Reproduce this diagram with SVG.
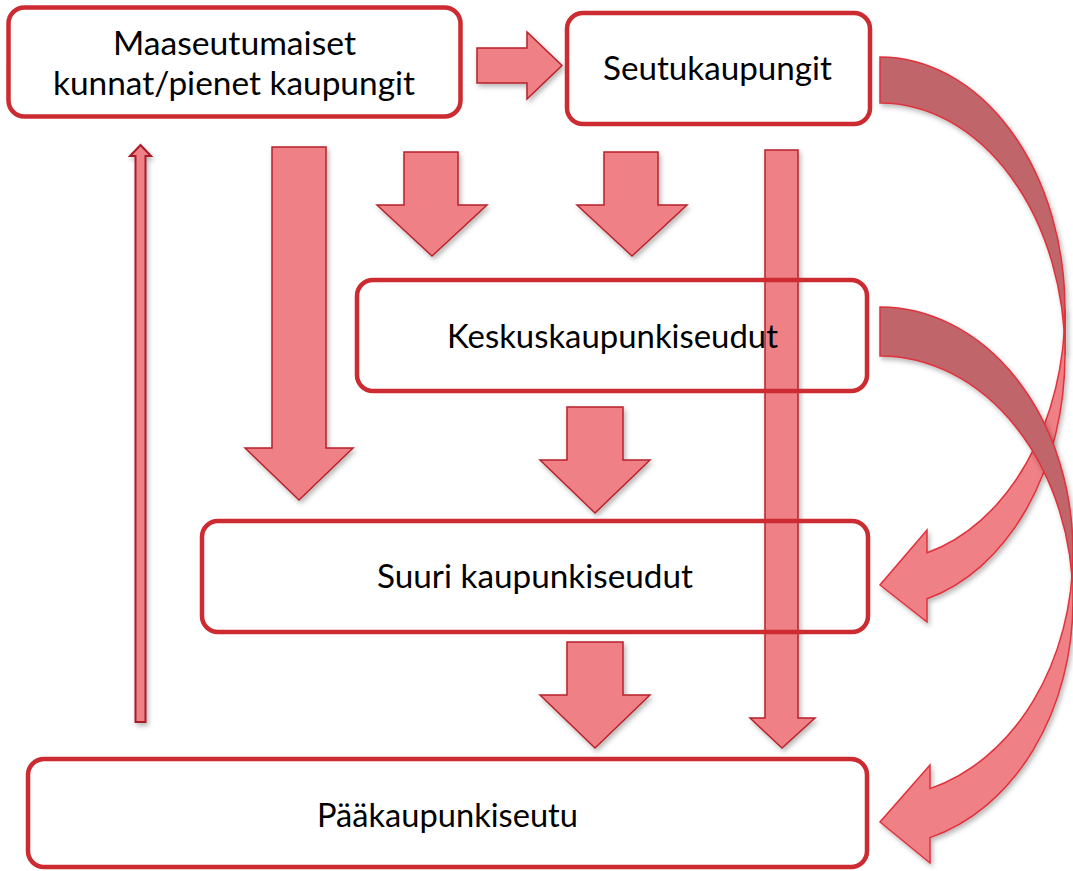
<svg xmlns="http://www.w3.org/2000/svg" width="1073" height="871" viewBox="0 0 1073 871">
<defs>
<filter id="sh" x="-20%" y="-20%" width="140%" height="140%">
<feDropShadow dx="2" dy="3" stdDeviation="2.5" flood-color="#000" flood-opacity="0.28"/>
</filter>
</defs>
<style>
.box{fill:none;stroke:#CC2B31;stroke-width:4.5}
.arr{fill:#EF8086;stroke:#B8222C;stroke-width:1.5;stroke-linejoin:miter;filter:url(#sh)}
.thin{fill:#EF8086;stroke:#A81C28;stroke-width:2;filter:url(#sh)}
.cf{fill:#EF8086;stroke:#E0323C;stroke-width:1.5;filter:url(#sh)}
.cb{fill:#C0656B;stroke:#E0323C;stroke-width:1.5;filter:url(#sh)}
.t{font-family:Lato,"Open Sans","Liberation Sans",sans-serif;font-size:33px;fill:#000}
</style>
<rect width="1073" height="871" fill="#fff"/>
<g id="connectors">
<g id="curved-a">
<path class="cb" d="M880,57 A185,252 0 0 1 1065,309 L1065,355 A185,252 0 0 0 880,103 Z"/>
<path class="cf" d="M1065,309 A185,252 0 0 1 927,552.8 L927,530 L880,585 L927,622 L927,598.8 A185,252 0 0 0 1065,355 Z"/>
</g>
<g id="curved-b">
<path class="cb" d="M880,307 A193,245 0 0 1 1073,552 L1073,601 A193,245 0 0 0 880,356 Z"/>
<path class="cf" d="M1073,552 A193,245 0 0 1 930,788.6 L930,765 L880,822 L930,863 L930,837.6 A193,245 0 0 0 1073,601 Z"/>
</g>
<path class="arr" d="M477,48 L527,48 L527,32 L562,65.5 L527,99 L527,83 L477,83 Z"/>
<path class="arr" d="M272,147 L326,147 L326,448 L353,448 L299,500 L245,448 L272,448 Z"/>
<path class="arr" d="M404,152 L458,152 L458,205 L487,205 L432,256 L377,205 L404,205 Z"/>
<path class="arr" d="M604,152 L658,152 L658,205 L687,205 L632,256 L577,205 L604,205 Z"/>
<path class="arr" d="M567,407 L623,407 L623,460 L650,460 L595,513 L540,460 L567,460 Z"/>
<path class="arr" d="M567,642 L623,642 L623,695 L650,695 L595,748 L540,695 L567,695 Z"/>
<path class="arr" d="M765,150 L798,150 L798,718 L815,718 L782,748 L750,718 L765,718 Z"/>
<path class="thin" d="M135.5,722 L145.5,722 L145.5,156 L151,156 L140.5,145 L130,156 L135.5,156 Z"/>
</g>
<g id="n1"><rect class="box" x="8.5" y="7.5" width="452" height="109" rx="16"/>
<text class="t" x="113" y="55" textLength="243" lengthAdjust="spacingAndGlyphs">Maaseutumaiset</text>
<text class="t" x="53" y="95" textLength="362" lengthAdjust="spacingAndGlyphs">kunnat/pienet kaupungit</text></g>
<g id="n2"><rect class="box" x="567" y="13" width="303" height="111" rx="16"/>
<text class="t" x="603" y="80" textLength="229" lengthAdjust="spacingAndGlyphs">Seutukaupungit</text></g>
<g id="n3"><rect class="box" x="357" y="280" width="510" height="111" rx="16"/>
<text class="t" x="447" y="348" textLength="331" lengthAdjust="spacingAndGlyphs">Keskuskaupunkiseudut</text></g>
<g id="n4"><rect class="box" x="202" y="521" width="666" height="111" rx="16"/>
<text class="t" x="377" y="588" textLength="316" lengthAdjust="spacingAndGlyphs">Suuri kaupunkiseudut</text></g>
<g id="n5"><rect class="box" x="28" y="759" width="839" height="108" rx="16"/>
<text class="t" x="317" y="827" textLength="261" lengthAdjust="spacingAndGlyphs">Pääkaupunkiseutu</text></g>
</svg>
